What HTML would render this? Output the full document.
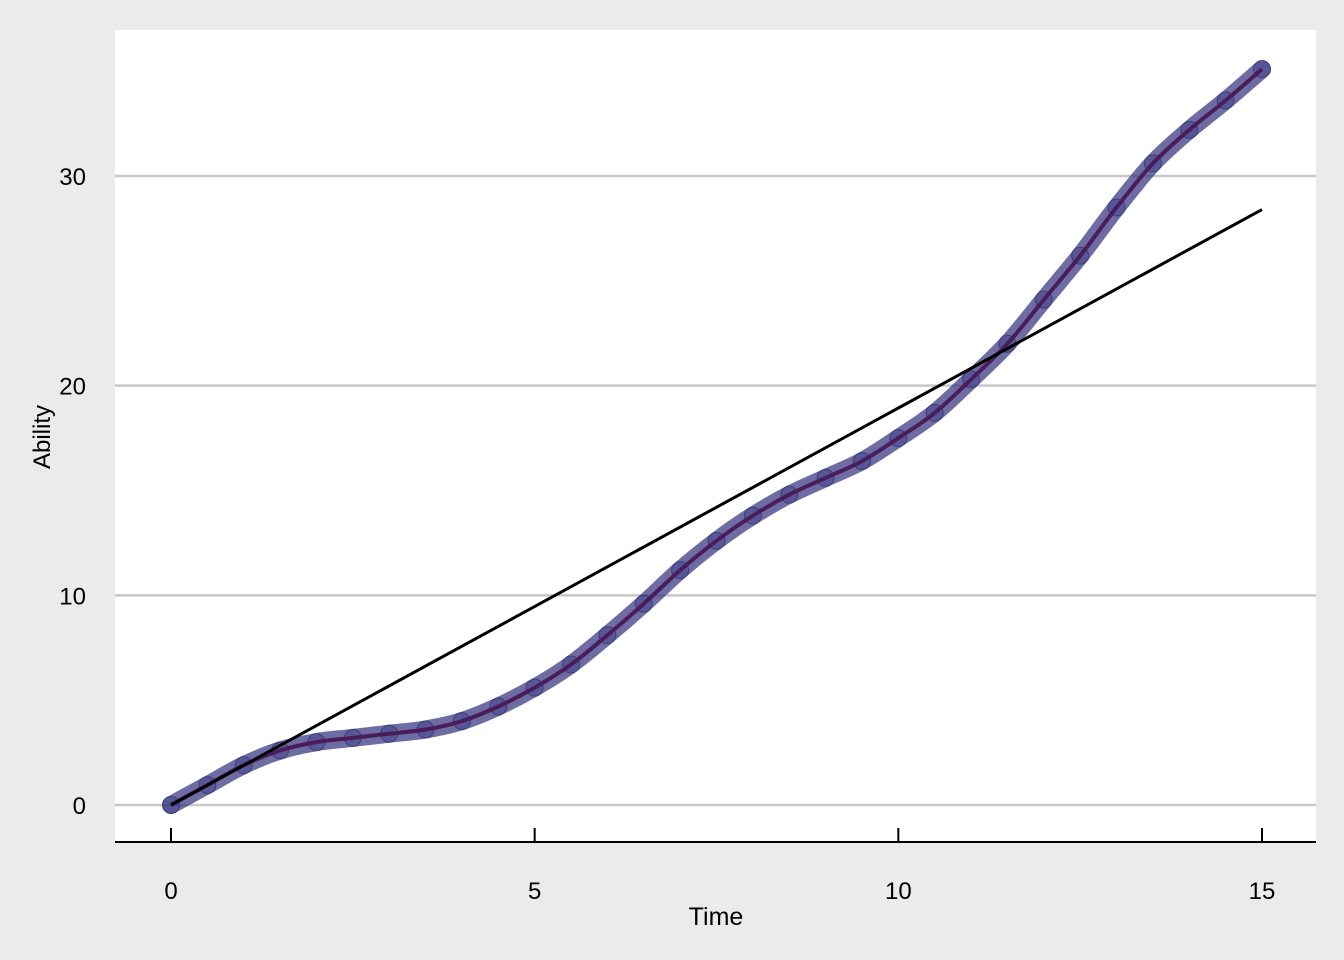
<!DOCTYPE html>
<html><head><meta charset="utf-8"><style>
html,body{margin:0;padding:0;background:#ebebeb;}
svg{display:block;font-family:"Liberation Sans",Arial,sans-serif;}
</style></head><body>
<svg id="chart" width="1344" height="960" viewBox="0 0 1344 960" xmlns="http://www.w3.org/2000/svg">
<rect x="0" y="0" width="1344" height="960" fill="#ebebeb"/>
<rect x="115" y="30" width="1201" height="812" fill="#ffffff"/>
<g id="grid"></g>
<g id="marks"></g>
<g id="axes"></g>
<text x="716" y="925" font-size="25" text-anchor="middle" fill="#000">Time</text>
<text transform="translate(50,437) rotate(-90)" font-size="24" text-anchor="middle" fill="#000">Ability</text>
</svg>
<script>
const times = [0,0.5,1,1.5,2,2.5,3,3.5,4,4.5,5,5.5,6,6.5,7,7.5,8,8.5,9,9.5,10,10.5,11,11.5,12,12.5,13,13.5,14,14.5,15];
const ability = [0,0.95,1.9,2.6,3.0,3.2,3.4,3.6,4.0,4.7,5.6,6.7,8.1,9.6,11.2,12.6,13.8,14.8,15.6,16.4,17.5,18.7,20.3,22.0,24.1,26.2,28.5,30.6,32.2,33.6,35.1];
const fitStart = [0,0];
const fitEnd = [15,28.4];
const xTicks = [0,5,10,15];
const yTicks = [0,10,20,30];

const NS="http://www.w3.org/2000/svg";
const X=v=>171+v*(1262-171)/15;
const Y=v=>805-v*(805-176)/30;
function mk(tag,attrs,parent){const e=document.createElementNS(NS,tag);for(const k in attrs)e.setAttribute(k,attrs[k]);parent.appendChild(e);return e;}
const grid=document.getElementById('grid'),marks=document.getElementById('marks'),axes=document.getElementById('axes');

yTicks.forEach(t=>{
  const l=mk('line',{x1:115,x2:1316,y1:Y(t),y2:Y(t),stroke:'#c8c8c8','stroke-width':2.5},grid);
  
  
  const tx=mk('text',{x:86,y:Y(t)+9,'font-size':24,'text-anchor':'end',fill:'#000'},axes);
  tx.textContent=t;
  
  
});
const ax=mk('line',{x1:115,x2:1316,y1:842,y2:842,stroke:'#000','stroke-width':2},axes);


xTicks.forEach(t=>{
  const tk=mk('line',{x1:X(t),x2:X(t),y1:828,y2:842,stroke:'#000','stroke-width':2},axes);
  
  
  const tx=mk('text',{x:X(t),y:899,'font-size':24,'text-anchor':'middle',fill:'#000'},axes);
  tx.textContent=t;
  
  
});

// smooth Catmull-Rom rendering of the path through data points
const P=times.map((t,i)=>[X(t),Y(ability[i])]);
let d='M'+P[0][0].toFixed(1)+','+P[0][1].toFixed(1);
for(let i=0;i<P.length-1;i++){
  const p0=P[Math.max(0,i-1)],p1=P[i],p2=P[i+1],p3=P[Math.min(P.length-1,i+2)];
  const c1=[p1[0]+(p2[0]-p0[0])/6,p1[1]+(p2[1]-p0[1])/6];
  const c2=[p2[0]-(p3[0]-p1[0])/6,p2[1]-(p3[1]-p1[1])/6];
  d+=' C'+c1[0].toFixed(1)+','+c1[1].toFixed(1)+' '+c2[0].toFixed(1)+','+c2[1].toFixed(1)+' '+p2[0].toFixed(1)+','+p2[1].toFixed(1);
}
const band=mk('path',{d:d,fill:'none',stroke:'#34347f','stroke-opacity':0.72,'stroke-width':18,'stroke-linecap':'round','stroke-linejoin':'round'},marks);


times.forEach((t,i)=>{
  const c=mk('circle',{cx:X(t),cy:Y(ability[i]),r:8.5,fill:'#3b3b8c','fill-opacity':0.45,stroke:'#1a1a5a','stroke-opacity':0.5,'stroke-width':1},marks);
  
  
});
const ln=mk('path',{d:d,fill:'none',stroke:'#4a1d5a','stroke-width':4,'stroke-linejoin':'round'},marks);


const fit=mk('line',{x1:X(fitStart[0]),y1:Y(fitStart[1]),x2:X(fitEnd[0]),y2:Y(fitEnd[1]),stroke:'#000','stroke-width':3},marks);


</script>
</body></html>
